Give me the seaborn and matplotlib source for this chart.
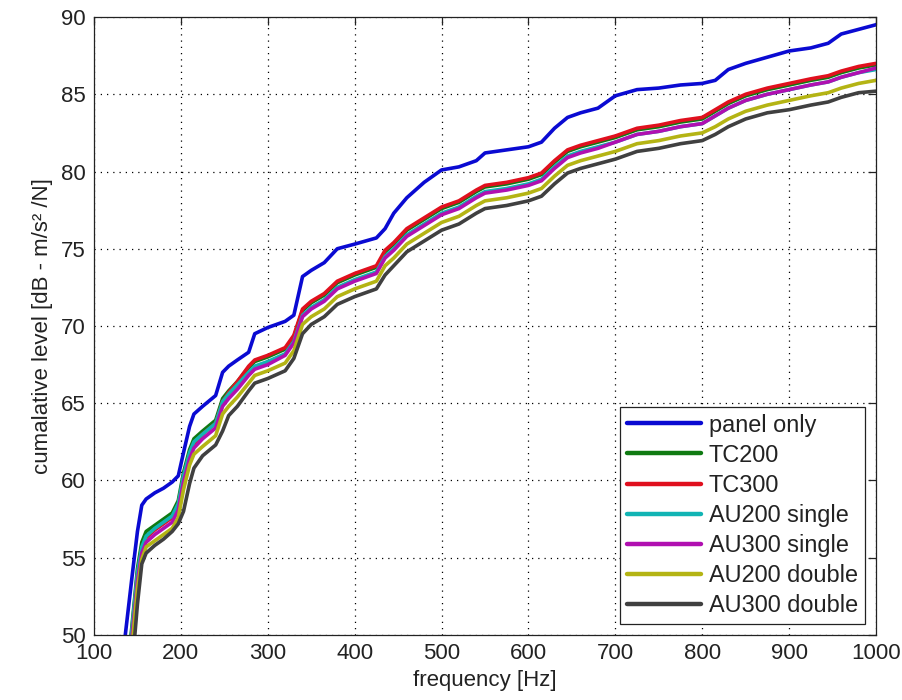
import matplotlib
matplotlib.use("Agg")
import matplotlib.pyplot as plt
import seaborn as sns
import pandas as pd
from matplotlib.lines import Line2D

# ---- data ----
freq = [136, 143, 147, 150, 155, 160, 170, 180, 190, 197, 203, 210, 215, 225, 240,
        248, 255, 265, 278, 285, 300, 320, 330, 340, 350, 365, 380, 400, 425, 435,
        445, 460, 480, 500, 520, 540, 550, 575, 600, 615, 630, 645, 660, 680, 700,
        725, 750, 775, 800, 815, 830, 850, 875, 900, 925, 945, 960, 980, 1000]

panel_only = [50.0, 53.4, 55.3, 56.7, 58.4, 58.8, 59.2, 59.5, 59.9, 60.3, 61.8, 63.5, 64.3, 64.8, 65.5,
              67.0, 67.4, 67.8, 68.3, 69.5, 69.9, 70.3, 70.7, 73.2, 73.6, 74.1, 75.0, 75.3, 75.7, 76.3,
              77.3, 78.3, 79.3, 80.1, 80.3, 80.7, 81.2, 81.4, 81.6, 81.9, 82.8, 83.5, 83.8, 84.1, 84.9,
              85.3, 85.4, 85.6, 85.7, 85.9, 86.6, 87.0, 87.4, 87.8, 88.0, 88.3, 88.9, 89.2, 89.5]

tc200 = [47.0, 50.2, 52.5, 54.3, 56.0, 56.7, 57.1, 57.5, 57.9, 58.7, 60.5, 62.0, 62.7, 63.2, 63.9,
         65.3, 65.8, 66.4, 67.3, 67.7, 68.0, 68.5, 69.3, 71.0, 71.5, 72.0, 72.8, 73.3, 73.8, 74.8,
         75.3, 76.2, 76.9, 77.6, 78.0, 78.7, 79.0, 79.2, 79.5, 79.8, 80.6, 81.3, 81.6, 81.9, 82.2,
         82.7, 82.9, 83.2, 83.4, 83.9, 84.4, 84.9, 85.3, 85.6, 85.9, 86.1, 86.4, 86.7, 86.9]

tc300 = [46.5, 49.8, 52.0, 53.9, 55.6, 56.3, 56.8, 57.2, 57.6, 58.4, 60.2, 61.7, 62.4, 63.0, 63.7,
         65.1, 65.7, 66.4, 67.4, 67.8, 68.1, 68.6, 69.4, 71.1, 71.6, 72.1, 72.9, 73.4, 73.9, 74.9,
         75.4, 76.3, 77.0, 77.7, 78.1, 78.8, 79.1, 79.3, 79.6, 79.9, 80.7, 81.4, 81.7, 82.0, 82.3,
         82.8, 83.0, 83.3, 83.5, 84.0, 84.5, 85.0, 85.4, 85.7, 86.0, 86.2, 86.5, 86.8, 87.0]

au200_single = [46.8, 50.0, 52.3, 54.0, 55.7, 56.4, 56.9, 57.3, 57.7, 58.5, 60.3, 61.8, 62.5, 63.0, 63.7,
                65.1, 65.6, 66.2, 67.0, 67.4, 67.7, 68.2, 69.0, 70.7, 71.2, 71.7, 72.5, 73.0, 73.5, 74.5,
                75.0, 75.9, 76.6, 77.3, 77.7, 78.4, 78.7, 78.9, 79.2, 79.5, 80.3, 81.0, 81.3, 81.6, 81.9,
                82.4, 82.6, 82.9, 83.1, 83.6, 84.1, 84.6, 85.0, 85.3, 85.6, 85.8, 86.1, 86.4, 86.6]

au300_single = [46.0, 49.5, 51.7, 53.5, 55.3, 56.0, 56.5, 56.9, 57.3, 58.1, 59.9, 61.4, 62.1, 62.7, 63.4,
                64.8, 65.3, 65.9, 66.8, 67.2, 67.5, 68.1, 68.9, 70.6, 71.1, 71.6, 72.4, 72.9, 73.4, 74.4,
                74.9, 75.8, 76.5, 77.2, 77.6, 78.3, 78.6, 78.8, 79.1, 79.4, 80.2, 80.9, 81.2, 81.5, 81.9,
                82.4, 82.6, 82.9, 83.1, 83.6, 84.1, 84.6, 85.0, 85.3, 85.6, 85.8, 86.1, 86.4, 86.7]

au200_double = [45.5, 48.8, 51.2, 53.0, 54.9, 55.7, 56.1, 56.5, 56.9, 57.6, 59.4, 61.0, 61.7, 62.2, 62.9,
                64.3, 64.8, 65.4, 66.3, 66.8, 67.1, 67.6, 68.4, 70.1, 70.6, 71.1, 71.9, 72.4, 72.9, 73.9,
                74.4, 75.3, 76.0, 76.7, 77.1, 77.8, 78.1, 78.3, 78.6, 78.9, 79.7, 80.4, 80.7, 81.0, 81.3,
                81.8, 82.0, 82.3, 82.5, 82.9, 83.4, 83.9, 84.3, 84.6, 84.9, 85.1, 85.4, 85.7, 85.9]

au300_double = [44.5, 47.5, 50.0, 52.0, 54.6, 55.3, 55.8, 56.2, 56.7, 57.2, 58.0, 59.8, 60.8, 61.6, 62.3,
                63.2, 64.2, 64.8, 65.8, 66.3, 66.6, 67.1, 67.9, 69.5, 70.1, 70.6, 71.4, 71.9, 72.4, 73.3,
                73.9, 74.8, 75.5, 76.2, 76.6, 77.3, 77.6, 77.8, 78.1, 78.4, 79.2, 79.9, 80.2, 80.5, 80.8,
                81.3, 81.5, 81.8, 82.0, 82.4, 82.9, 83.4, 83.8, 84.0, 84.3, 84.5, 84.8, 85.1, 85.2]

series_names = ["panel only", "TC200", "TC300", "AU200 single", "AU300 single",
                "AU200 double", "AU300 double"]
series_values = [panel_only, tc200, tc300, au200_single, au300_single,
                 au200_double, au300_double]
colors = ["#0a0ad2", "#0f7a12", "#e0101e", "#12b4b4", "#b010b0", "#b4b414", "#404040"]

x_ticks = [100, 200, 300, 400, 500, 600, 700, 800, 900, 1000]
y_ticks = [50, 55, 60, 65, 70, 75, 80, 85, 90]

# ---- long-form table ----
rows = []
for name, vals in zip(series_names, series_values):
    for f, v in zip(freq, vals):
        rows.append({"freq": f, "level": v, "series": name})
df = pd.DataFrame(rows)

sns.set_theme(style="white")
plt.rcParams["font.family"] = ["Liberation Sans", "DejaVu Sans"]

fig = plt.figure(figsize=(9.03, 7.0), dpi=100)
ax = fig.add_axes([0.1041, 0.0929, 0.9701 - 0.1041, 0.9757 - 0.0929])

sns.lineplot(data=df, x="freq", y="level", hue="series", hue_order=series_names,
             palette=dict(zip(series_names, colors)), estimator=None, sort=False,
             linewidth=2.6, ax=ax, legend=False)

ax.set_xlim(100, 1000)
ax.set_ylim(50, 90)
ax.set_xticks(x_ticks)
ax.set_yticks(y_ticks)
ax.set_xticklabels([str(t) for t in x_ticks])
ax.set_yticklabels([str(t) for t in y_ticks])

ax.set_axisbelow(True)
ax.grid(True, color="black", linestyle=(0, (1, 4)), linewidth=0.9)

for sp in ax.spines.values():
    sp.set_color("#222222")
    sp.set_linewidth(0.9)
    sp.set_visible(True)

ax.tick_params(direction="in", length=6, width=0.9, color="#222222",
               top=True, right=True, labelsize=16, labelcolor="#222222", pad=6)

ax.set_xlabel("frequency [Hz]", fontsize=16, color="#222222", labelpad=4)
ax.set_ylabel("cumalative level [dB - m/s² /N]", fontsize=16, color="#222222", labelpad=6)

handles = [Line2D([0], [0], color=c, linewidth=3.2) for c in colors]
leg = ax.legend(handles, series_names, loc="lower right", fontsize=16.9,
                frameon=True, fancybox=False, framealpha=1, edgecolor="#222222",
                handlelength=3.15, handletextpad=0.34, labelspacing=0.3,
                borderpad=0.3, borderaxespad=0.47)
leg.get_frame().set_linewidth(0.9)
for t in leg.get_texts():
    t.set_color("#222222")

fig.savefig("out.png", dpi=100)
